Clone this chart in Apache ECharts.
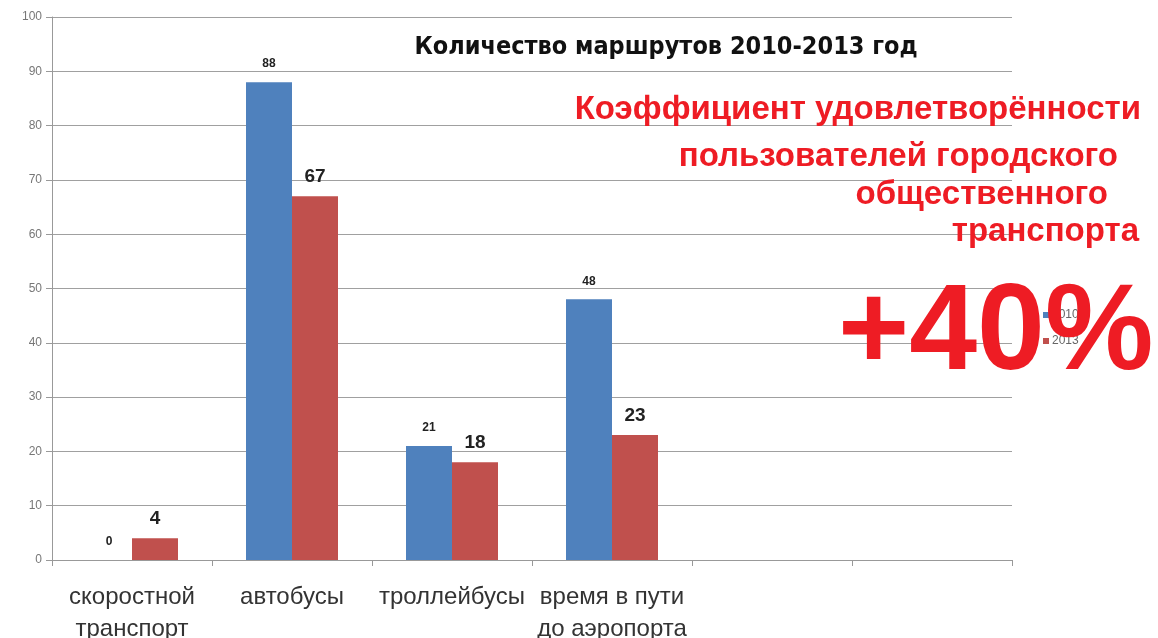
<!DOCTYPE html>
<html>
<head>
<meta charset="utf-8">
<script src="https://cdn.jsdelivr.net/npm/echarts@6/dist/echarts.min.js"></script>
<style>
  html, body { margin: 0; padding: 0; background: #fff; }
  #chart { width: 1158px; height: 638px; }
</style>
</head>
<body>
<div id="chart"></div>
<script>
  // категории и значения
  var categories = ['скоростной\nтранспорт', 'автобусы', 'троллейбусы', 'время в пути\nдо аэропорта', '', ''];
  var values2010 = [0, 88, 21, 48, null, null];
  var values2013 = [4, 67, 18, 23, null, null];
  var yTicks = [0, 100, 10];

  var redFont = 'bold 33px "Liberation Sans", sans-serif';

  var myChart = echarts.init(document.getElementById('chart'));
  var option = {
    animation: false,
    textStyle: { fontFamily: 'Liberation Sans Narrow, Liberation Sans, sans-serif' },
    title: {
      text: 'Количество маршрутов 2010-2013 год',
      left: 661,
      top: 30,
      textAlign: 'center',
      textStyle: { fontSize: 25, fontWeight: 'bold', color: '#111', fontFamily: 'DejaVu Sans Condensed, Liberation Sans, sans-serif' }
    },
    legend: {
      orient: 'vertical',
      left: 1038,
      top: 304,
      itemWidth: 6,
      itemHeight: 6,
      itemGap: 14,
      icon: 'rect',
      data: ['2010', '2013'],
      textStyle: { color: '#666', fontSize: 12, padding: [0, 0, 0, -2] }
    },
    grid: { left: 52, right: 146, top: 17, bottom: 78, outerBoundsMode: 'none', containLabel: false },
    xAxis: {
      type: 'category',
      data: categories,
      axisLine: { lineStyle: { color: '#999' } },
      axisTick: { show: true, length: 6, lineStyle: { color: '#999' } },
      axisLabel: { color: '#333', fontSize: 24, margin: 21, lineHeight: 32, interval: 0 }
    },
    yAxis: {
      type: 'value',
      min: yTicks[0],
      max: yTicks[1],
      interval: yTicks[2],
      axisLine: { show: true, lineStyle: { color: '#999' } },
      axisTick: { show: true, length: 6, lineStyle: { color: '#999' } },
      axisLabel: { color: '#777', fontSize: 12, margin: 10 },
      splitLine: { lineStyle: { color: '#a0a0a0', width: 1 } }
    },
    series: [{
      name: '2010',
      type: 'bar',
      data: values2010,
      barWidth: 46,
      barGap: '0%',
      color: '#4f81bd',
      label: { show: true, position: 'top', color: '#222', fontSize: 12, fontWeight: 'bold', distance: 12 }
    }, {
      name: '2013',
      type: 'bar',
      data: values2013,
      barWidth: 46,
      color: '#c0504d',
      label: { show: true, position: 'top', color: '#222', fontSize: 19, fontWeight: 'bold', distance: 10 }
    }],
    graphic: [
      { type: 'text', z: 100, x: 1141, y: 110, style: { text: 'Коэффициент удовлетворённости', align: 'right', verticalAlign: 'middle', fill: '#ee1c24', font: redFont } },
      { type: 'text', z: 100, x: 1118, y: 157, style: { text: 'пользователей городского', align: 'right', verticalAlign: 'middle', fill: '#ee1c24', font: redFont } },
      { type: 'text', z: 100, x: 1108, y: 195, style: { text: 'общественного', align: 'right', verticalAlign: 'middle', fill: '#ee1c24', font: redFont } },
      { type: 'text', z: 100, x: 1139, y: 232, style: { text: 'транспорта', align: 'right', verticalAlign: 'middle', fill: '#ee1c24', font: redFont } },
      { type: 'text', z: 100, x: 838, y: 274, style: { text: '+40%', fill: '#ee1c24', font: 'bold 122px "Liberation Sans", sans-serif' } }
    ]
  };
  myChart.setOption(option);
</script>
</body>
</html>
